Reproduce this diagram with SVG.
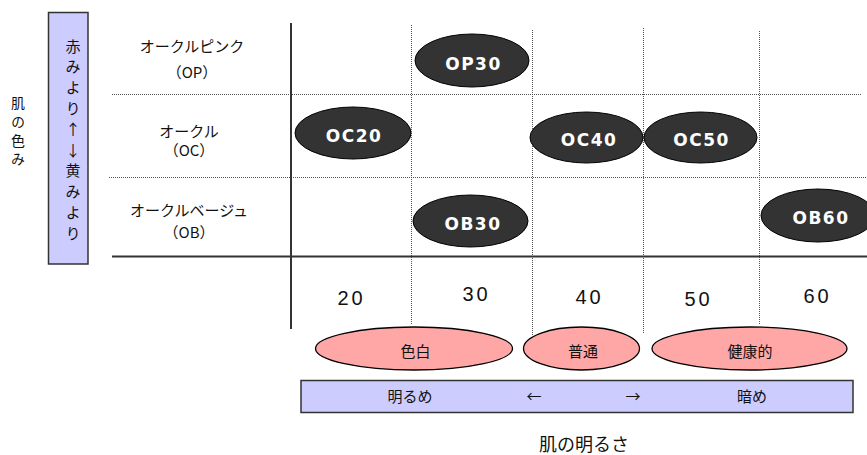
<svg xmlns="http://www.w3.org/2000/svg" width="867" height="455" viewBox="0 0 867 455">
<style>
.jp{font-family:"Noto Sans CJK JP","Noto Sans",sans-serif;fill:#111;text-anchor:middle}
.vt{font-family:"Noto Sans CJK JP","Noto Sans",sans-serif;fill:#111;writing-mode:vertical-rl;text-orientation:upright;text-anchor:start}
.dot{stroke:#555;stroke-width:1;stroke-dasharray:1 1;fill:none}
.axis{stroke:#333;stroke-width:2;fill:none}
.node ellipse{fill:#333;stroke:#000;stroke-width:1}
.node text{font-family:"DejaVu Sans","Liberation Sans",sans-serif;font-weight:bold;font-size:17px;fill:#fff;text-anchor:middle;letter-spacing:1.5px}
.num{font-family:"Liberation Sans",Arial,sans-serif;font-size:20px;fill:#111;text-anchor:middle;letter-spacing:3px}
.pink ellipse{fill:#ffa6a6;stroke:#000;stroke-width:1.3}
.blue{fill:#ccccff;stroke:#333;stroke-width:1.5}
</style>
<rect width="867" height="455" fill="#fff"/>
<g id="connectors">
<line class="dot" x1="112" y1="94.5" x2="862" y2="94.5"/>
<line class="dot" x1="109" y1="177.5" x2="867" y2="177.5"/>
<line class="dot" x1="411.5" y1="25" x2="411.5" y2="325"/>
<line class="dot" x1="532.5" y1="30" x2="532.5" y2="335"/>
<line class="dot" x1="643.5" y1="28" x2="643.5" y2="333"/>
<line class="dot" x1="759.5" y1="31" x2="759.5" y2="325"/>
<line class="axis" x1="112" y1="256.5" x2="867" y2="256.5"/>
<line class="axis" x1="291" y1="23" x2="291" y2="329"/>
</g>
<g id="hue-label">
<text class="vt" font-size="14" letter-spacing="4.7" x="18" y="96">肌の色み</text>
</g>
<g id="hue-bar">
<rect class="blue" x="48.5" y="12.5" width="39.5" height="251.5"/>
<text class="vt" font-size="15" letter-spacing="5.8" x="73" y="38.5">赤みより↑↓黄みより</text>
</g>
<g id="row-op" class="jp" font-size="15">
<text x="192" y="51.5">オークルピンク</text>
<text x="192" y="77.5">（OP）</text>
</g>
<g id="row-oc" class="jp" font-size="15">
<text x="189" y="136.5">オークル</text>
<text x="189" y="155.5">（OC）</text>
</g>
<g id="row-ob" class="jp" font-size="15">
<text x="189" y="215.5">オークルベージュ</text>
<text x="189" y="237.5">（OB）</text>
</g>
<g id="OP30" class="node"><ellipse cx="472" cy="60.5" rx="57" ry="26.5"/><text x="473.5" y="70">OP30</text></g>
<g id="OC20" class="node"><ellipse cx="353" cy="133" rx="58" ry="26"/><text x="354" y="142">OC20</text></g>
<g id="OB30" class="node"><ellipse cx="470.5" cy="221" rx="57.5" ry="26"/><text x="473" y="229.5">OB30</text></g>
<g id="OC40" class="node"><ellipse cx="586.5" cy="137.5" rx="56.5" ry="25.5"/><text x="589" y="146">OC40</text></g>
<g id="OC50" class="node"><ellipse cx="700.5" cy="137.5" rx="56.5" ry="25.5"/><text x="701.5" y="146">OC50</text></g>
<g id="OB60" class="node"><ellipse cx="818" cy="215.5" rx="57" ry="26.5"/><text x="821" y="223.5">OB60</text></g>
<g id="scale">
<text class="num" x="351.5" y="305">20</text>
<text class="num" x="476.5" y="301">30</text>
<text class="num" x="589.5" y="304">40</text>
<text class="num" x="698.5" y="306">50</text>
<text class="num" x="817.5" y="303">60</text>
</g>
<g id="irojiro" class="pink"><ellipse cx="414" cy="348.5" rx="98.5" ry="21.5"/><text class="jp" font-size="15" x="415.5" y="357">色白</text></g>
<g id="futsu" class="pink"><ellipse cx="581.5" cy="348.5" rx="58" ry="21.5"/><text class="jp" font-size="15" x="583" y="357">普通</text></g>
<g id="kenkoteki" class="pink"><ellipse cx="749.5" cy="348.5" rx="97.5" ry="21.5"/><text class="jp" font-size="15" x="750" y="357">健康的</text></g>
<g id="brightness-bar">
<rect class="blue" x="301" y="380.5" width="552" height="32"/>
<g class="jp" font-size="15">
<text x="410" y="402">明るめ</text>
<text x="534" y="402">←</text>
<text x="633" y="402">→</text>
<text x="752" y="402">暗め</text>
</g>
</g>
<g id="brightness-label">
<text class="jp" font-size="18" x="584" y="451">肌の明るさ</text>
</g>
</svg>
